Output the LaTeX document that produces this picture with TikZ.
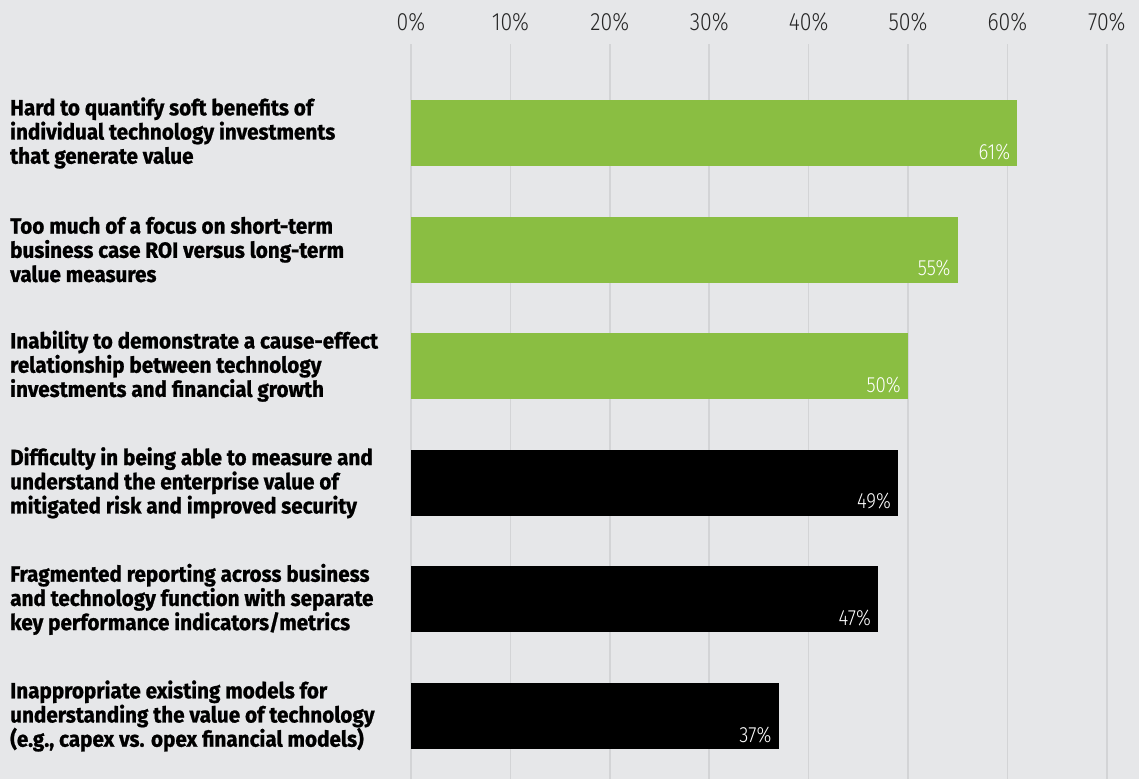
\documentclass[tikz,border=0pt]{standalone}
\usepackage{fontspec}
\setmainfont{Fira Sans}[FakeStretch=0.94,BoldFeatures={FakeBold=1}]
\newfontfamily\thinfont{Fira Sans Light}[FakeStretch=0.85]
\definecolor{chartbg}{HTML}{E6E7E9}
\definecolor{gridgray}{HTML}{D3D4D6}
\definecolor{greenbar}{HTML}{8ABE42}
\tikzset{
  tick/.style={inner sep=0pt,font=\thinfont\fontsize{25}{28}\selectfont,text=black!85},
  pct/.style={inner sep=0pt,anchor=base east,font=\thinfont\fontsize{22}{24}\selectfont,text=white},
  item/.style={inner sep=0pt,anchor=west,align=left,font=\bfseries\fontsize{22}{24.2}\selectfont}
}
\begin{document}
\begin{tikzpicture}[x=1pt,y=-1pt,line cap=butt]
			\def\xo{411};
			\def\unit{9.94};
			\def\barh{66};
			\fill[chartbg] (0,0) rectangle (1139,779);
			\useasboundingbox (0,0) rectangle (1139,779);
			% grid and scale
			\foreach \p in {0,...,7} {
				\pgfmathtruncatemacro\pc{\p*10}
				\draw[gridgray,line width=1.6pt] (\xo+\p*99.4,44) -- (\xo+\p*99.4,779);
				\node[tick] (tick\p) at (\xo+\p*99.4,22) {\pc\%};
			}
			% bars
			\foreach \i/\v/\c/\txt in {
				1/61/greenbar/{Hard to quantify soft benefits of\\individual technology investments\\that generate value},
				2/55/greenbar/{Too much of a focus on short-term\\business case ROI versus long-term\\value measures},
				3/50/greenbar/{Inability to demonstrate a cause-effect\\relationship between technology\\investments and financial growth},
				4/49/black/{Difficulty in being able to measure and\\understand the enterprise value of\\mitigated risk and improved security},
				5/47/black/{Fragmented reporting across business\\and technology function with separate\\key performance indicators/metrics},
				6/37/black/{Inappropriate existing models for\\understanding the value of technology\\(e.g., capex vs. opex financial models)}} {
				\pgfmathsetmacro\ytop{100+(\i-1)*116.6}
				\fill[\c] (\xo,\ytop) rectangle (\xo+\v*\unit,\ytop+\barh);
				\node[pct] (val\i) at (\xo+\v*\unit-7,\ytop+\barh-7) {\v\%};
				\node[item] (lab\i) at (10,\ytop+\barh/2) {\txt};
			}
		\end{tikzpicture}
\end{document}
